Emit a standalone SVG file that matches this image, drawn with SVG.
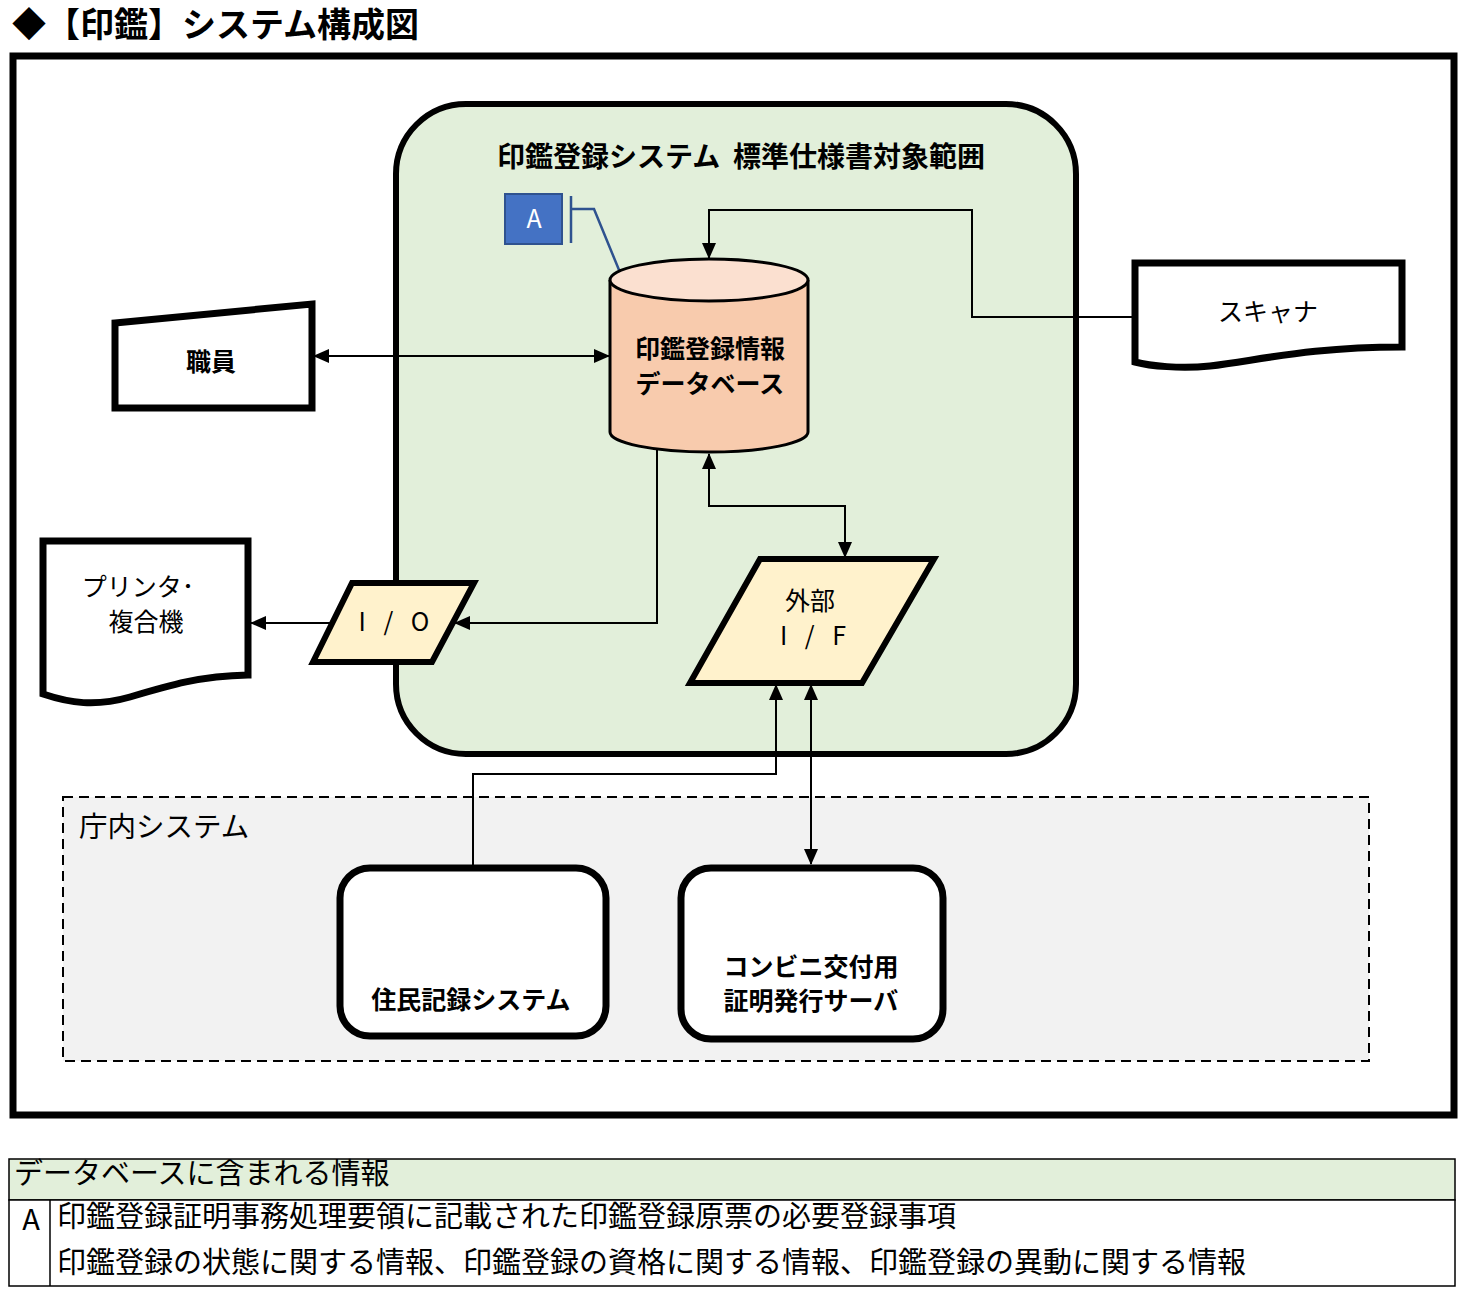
<svg xmlns="http://www.w3.org/2000/svg" width="1466" height="1295" viewBox="0 0 1466 1295">
<style>
text{font-family:"Noto Sans CJK JP","Noto Sans",sans-serif;fill:#000}
.t25{font-size:25px;text-anchor:middle}
.b{font-weight:bold}
.thick{fill:#fff;stroke:#000;stroke-width:7}
.conn{fill:none;stroke:#000;stroke-width:2}
.tbl{font-size:29px}
.sp{letter-spacing:6px}
</style>
<defs>
<marker id="ah" markerWidth="16" markerHeight="14" refX="15" refY="7" orient="auto-start-reverse" markerUnits="userSpaceOnUse">
<path d="M0,0 L16,7 L0,14 Z" fill="#000"/>
</marker>
</defs>
<rect width="1466" height="1295" fill="#fff"/>
<text x="12" y="37" font-size="34" class="b">◆【印鑑】システム構成図</text>
<rect id="frame" x="13" y="56" width="1441" height="1059" fill="#fff" stroke="#000" stroke-width="7"/>

<g id="scope">
<rect x="396" y="104" width="680" height="650" rx="70" fill="#E2EFDA" stroke="#000" stroke-width="6"/>
<text x="741" y="167" font-size="28" text-anchor="middle" class="b" xml:space="preserve">印鑑登録システム  標準仕様書対象範囲</text>
</g>

<g id="internal">
<rect x="63" y="797" width="1306" height="264" fill="#F2F2F2" stroke="#000" stroke-width="2" stroke-dasharray="10,6"/>
<text x="79" y="837" font-size="28.5">庁内システム</text>
</g>

<g id="connectors">
<polyline class="conn" points="1135,317 972,317 972,210 709,210 709,258" marker-end="url(#ah)"/>
<line class="conn" x1="314" y1="356" x2="609" y2="356" marker-start="url(#ah)" marker-end="url(#ah)"/>
<line class="conn" x1="332" y1="623" x2="251" y2="623" marker-end="url(#ah)"/>
<polyline class="conn" points="657,447 657,623 455,623" marker-end="url(#ah)"/>
<polyline class="conn" points="709,454 709,506 845,506 845,557" marker-start="url(#ah)" marker-end="url(#ah)"/>
<polyline class="conn" points="473,866 473,774 776,774 776,685" marker-end="url(#ah)"/>
<line class="conn" x1="811" y1="685" x2="811" y2="864" marker-start="url(#ah)" marker-end="url(#ah)"/>
</g>

<g id="annotation-a">
<rect x="505" y="194" width="57" height="50" fill="#4472C4" stroke="#2F528F" stroke-width="2"/>
<text x="534" y="228" font-size="25" text-anchor="middle" style="fill:#fff">A</text>
<path d="M571,196 V243 M571,209 H594 L626,287" fill="none" stroke="#2F528F" stroke-width="2.5"/>
</g>

<g id="database">
<path d="M610,280 V432 A99,20 0 0 0 808,432 V280" fill="#F8CBAD" stroke="#000" stroke-width="3"/>
<ellipse cx="709" cy="280" rx="99" ry="21" fill="#FBE0D0" stroke="#000" stroke-width="3"/>
<text x="710" y="358" class="t25 b">印鑑登録情報</text>
<text x="710" y="393" class="t25 b">データベース</text>
</g>

<g id="scanner">
<path class="thick" d="M1135,263 H1402 V347 C1310,347 1260,360 1210,366 C1180,369 1150,366 1135,362 Z"/>
<text x="1268" y="321" class="t25">スキャナ</text>
</g>

<g id="staff">
<polygon class="thick" points="115,323 312,304 312,408 115,408"/>
<text x="211" y="371" class="t25 b">職員</text>
</g>

<g id="printer">
<path class="thick" d="M43,541 H248 V675 C200,676 170,685 130,697 C95,707 70,703 43,694 Z"/>
<text x="138" y="596" class="t25">プリンタ･</text>
<text x="146" y="631" class="t25">複合機</text>
</g>

<g id="io">
<polygon points="313,662 352,583 474,583 432,662" fill="#FFF2CC" stroke="#000" stroke-width="6"/>
<text x="397" y="631" class="t25 sp">I / O</text>
</g>

<g id="ext-if">
<polygon points="690,683 760,559 934,559 862,683" fill="#FFF2CC" stroke="#000" stroke-width="6"/>
<text x="810" y="610" class="t25">外部</text>
<text x="816" y="645" class="t25 sp">I / F</text>
</g>

<g id="jumin">
<rect class="thick" x="340" y="868" width="266" height="168" rx="30"/>
<text x="471" y="1009" class="t25 b">住民記録システム</text>
</g>

<g id="conbini">
<rect class="thick" x="681" y="868" width="262" height="171" rx="30"/>
<text x="811" y="976" class="t25 b">コンビニ交付用</text>
<text x="811" y="1010" class="t25 b">証明発行サーバ</text>
</g>

<g id="table">
<rect x="9" y="1159" width="1446" height="41" fill="#E2EFDA" stroke="#000" stroke-width="1.5"/>
<rect x="9" y="1200" width="1446" height="86" fill="#fff" stroke="#000" stroke-width="1.5"/>
<line x1="50" y1="1200" x2="50" y2="1286" stroke="#000" stroke-width="1.5"/>
<text x="14" y="1184" class="tbl">データベースに含まれる情報</text>
<text x="31" y="1230" class="tbl" text-anchor="middle">A</text>
<text x="57" y="1227" class="tbl">印鑑登録証明事務処理要領に記載された印鑑登録原票の必要登録事項</text>
<text x="57" y="1273" class="tbl">印鑑登録の状態に関する情報、印鑑登録の資格に関する情報、印鑑登録の異動に関する情報</text>
</g>
</svg>
